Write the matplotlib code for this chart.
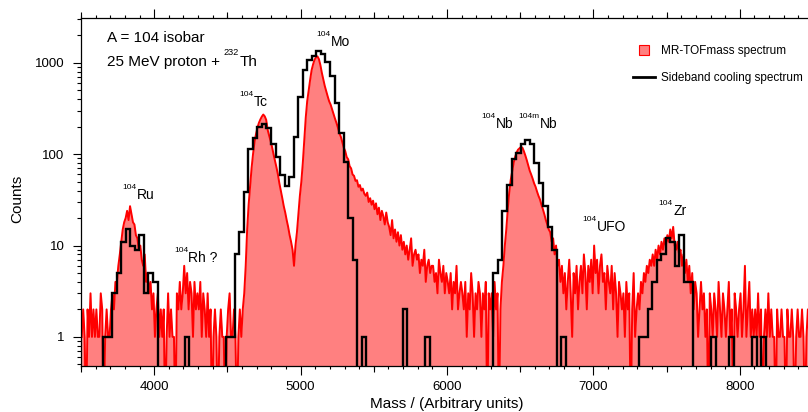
import numpy as np
import matplotlib.pyplot as plt
from matplotlib.lines import Line2D
from matplotlib.ticker import MultipleLocator, LogLocator, NullFormatter, FuncFormatter

plt.rcParams['font.family'] = ['Liberation Sans', 'DejaVu Sans']

# MR-TOF mass spectrum, 10-unit bins starting at 3500 (one row = 100 units)
tof_start = 3500
tof_width = 10
tof_counts = [
    1, 2, 1, 0, 2, 1, 3, 1, 2, 1,              # 3500
    2, 1, 1, 3, 2, 0, 1, 2, 1, 1,              # 3600
    2, 3, 2, 4, 4, 6, 8, 11, 15, 18,           # 3700
    20, 24, 19, 27, 22, 18, 17, 13, 12, 9,     # 3800
    10, 7, 6, 8, 4, 5, 3, 4, 2, 3,             # 3900
    1, 2, 3, 1, 2, 1, 2, 0, 1, 3,              # 4000
    1, 2, 1, 1, 0, 3, 2, 4, 2, 3,              # 4100
    6, 3, 5, 2, 4, 3, 1, 4, 2, 3,              # 4200
    2, 4, 1, 3, 2, 1, 3, 1, 2, 0,              # 4300
    1, 2, 1, 0, 1, 2, 1, 1, 0, 1,              # 4400
    2, 3, 1, 1, 2, 1, 0, 1, 2, 1,              # 4500
    2, 3, 6, 15, 28, 45, 70, 100, 135, 165,    # 4600
    195, 220, 240, 258, 272, 260, 238, 185, 160, 140,  # 4700
    120, 100, 85, 72, 60, 48, 40, 33, 27, 23,  # 4800
    19, 16, 13, 11, 9, 6, 10, 14, 22, 35,      # 4900
    50, 80, 140, 250, 380, 500, 650, 830, 960, 1080,   # 5000
    1150, 1180, 1100, 950, 780, 660, 560, 490, 430, 380,  # 5100
    350, 310, 275, 245, 220, 195, 170, 155, 135, 118,  # 5200
    108, 93, 88, 74, 70, 60, 58, 51, 52, 44,   # 5300
    46, 40, 42, 37, 35, 38, 30, 33, 28, 31,    # 5400
    25, 29, 22, 26, 19, 24, 21, 17, 23, 18,    # 5500
    16, 13, 19, 12, 15, 11, 14, 10, 13, 9,     # 5600
    11, 8, 10, 7, 9, 12, 6, 8, 9, 7,           # 5700
    8, 5, 7, 6, 9, 4, 6, 7, 5, 6,              # 5800
    6, 4, 5, 3, 7, 5, 4, 6, 3, 5,              # 5900
    4, 3, 5, 2, 4, 3, 6, 2, 3, 4,              # 6000
    3, 2, 4, 1, 3, 2, 5, 3, 1, 3,              # 6100
    2, 4, 3, 1, 3, 2, 4, 0, 3, 2,              # 6200
    3, 1, 4, 2, 3, 0, 2, 4, 6, 10,             # 6300
    15, 25, 38, 52, 65, 80, 93, 104, 112, 116, # 6400
    120, 118, 108, 97, 86, 75, 66, 60, 54, 48, # 6500
    44, 39, 35, 32, 28, 25, 22, 19, 17, 15,    # 6600
    14, 11, 12, 8, 10, 6, 7, 4, 6, 3,          # 6700
    5, 2, 4, 7, 3, 1, 5, 3, 6, 2,              # 6800
    4, 6, 3, 8, 5, 2, 6, 4, 7, 3,              # 6900
    10, 5, 7, 3, 6, 8, 4, 5, 2, 6,             # 7000
    4, 3, 6, 2, 5, 3, 1, 4, 3, 2,              # 7100
    3, 1, 4, 2, 3, 0, 2, 5, 1, 2,              # 7200
    3, 2, 4, 3, 5, 4, 6, 5, 7, 6,              # 7300
    8, 6, 9, 7, 10, 8, 11, 9, 12, 10,          # 7400
    13, 11, 15, 12, 16, 10, 9, 11, 8, 9,       # 7500
    6, 8, 5, 7, 4, 6, 3, 5, 2, 4,              # 7600
    3, 1, 2, 4, 2, 3, 1, 2, 0, 3,              # 7700
    2, 1, 3, 2, 1, 4, 2, 1, 3, 2,              # 7800
    1, 2, 4, 1, 2, 0, 3, 2, 1, 2,              # 7900
    3, 1, 2, 6, 1, 2, 4, 1, 2, 1,              # 8000
    2, 1, 3, 1, 2, 0, 1, 2, 1, 3,              # 8100
    1, 2, 1, 1, 0, 2, 1, 1, 2, 1,              # 8200
    1, 0, 2, 1, 1, 2, 1, 0, 1, 2,              # 8300
    1, 1, 2, 1, 0, 1, 2, 1, 1, 1,              # 8400
]

# sideband cooling spectrum, 31-unit bins starting at 3651
sb_start = 3651
sb_width = 31
sb_counts = (
    [1, 1, 3, 5, 11, 15, 10, 9, 13, 3, 5, 4]          # 104Ru
    + [0] * 6 + [1] + [0] * 8
    + [1, 1, 8, 14]
    + [39, 115, 150, 200, 215, 195, 130, 93, 59, 45, 57, 154, 428]   # 104Tc
    + [826, 1076, 1175, 1333, 1250, 1030, 720, 363, 170, 82, 20, 7]  # 104Mo
    + [0, 1] + [0] * 8 + [2] + [0] * 4 + [1] + [0] * 14
    + [5, 7, 24, 46, 88, 104, 130, 144, 130, 80, 48, 27, 16, 9]      # 104Nb
    + [0, 1] + [0] * 16
    + [1, 1, 2, 4, 7, 8, 12, 11, 6, 13, 4, 4]         # 104Zr
    + [0] * 4 + [1] + [0] * 3 + [1] + [0] * 4 + [1, 0, 1, 0]
)

x_ticks = [4000, 5000, 6000, 7000, 8000]
mid_ticks = [3500, 4500, 5500, 6500, 7500, 8500]

# ---------------------------------------------------------------
floor = 0.1  # zero counts drawn below the axis
tof = np.array(tof_counts, dtype=float)
tof_x = tof_start + tof_width * (np.arange(len(tof)) + 0.5)
tof_y = np.where(tof > 0, tof, floor)

sb = np.array(sb_counts, dtype=float)
sb_edges = sb_start + sb_width * np.arange(len(sb) + 1)
sb_y = np.where(sb > 0, sb, floor)

fig = plt.figure(figsize=(8.08, 4.12), dpi=100)
ax = fig.add_axes([81 / 808, 46 / 412, 732 / 808, 348 / 412])

ax.fill_between(tof_x, tof_y, floor, color='#ff8080', lw=0, zorder=1)
ax.plot(tof_x, tof_y, color='red', lw=1.4, zorder=2)
ax.stairs(sb_y, sb_edges, baseline=floor, color='black', lw=1.7, zorder=3)

ax.set_yscale('log')
ax.set_xlim(3500, 8500)
ax.set_ylim(0.48, 3100)

# axes / ticks
for s in ('left', 'bottom', 'top'):
    ax.spines[s].set_linewidth(0.9)
ax.spines['right'].set_visible(False)

ax.xaxis.set_major_locator(plt.FixedLocator(x_ticks))
ax.xaxis.set_minor_locator(MultipleLocator(100))
ax.tick_params(axis='x', which='major', direction='out', length=6.5, width=0.8,
               top=True, bottom=True, labelsize=9.5, pad=4.5)
ax.tick_params(axis='x', which='minor', direction='out', length=2.4, width=0.8,
               top=True, bottom=True)
for loc in ('bottom', 'top'):
    sec = ax.secondary_xaxis(loc)
    sec.set_xticks(mid_ticks)
    sec.tick_params(direction='out', length=4.3, width=0.8,
                    labelbottom=False, labeltop=False)
    sec.spines[loc].set_visible(False)

ax.yaxis.set_major_locator(LogLocator(base=10))
ax.yaxis.set_minor_locator(LogLocator(base=10, subs=range(2, 10)))
ax.yaxis.set_minor_formatter(NullFormatter())
ax.yaxis.set_major_formatter(FuncFormatter(lambda v, _: f'{v:g}'))
ax.tick_params(axis='y', which='major', direction='out', length=6, width=0.8,
               right=False, labelsize=9.5, pad=6)
ax.tick_params(axis='y', which='minor', direction='out', length=3, width=0.8,
               right=False)

ax.set_xlabel('Mass / (Arbitrary units)', fontsize=11)
ax.xaxis.set_label_coords(0.5, -0.088)
ax.set_ylabel('Counts', fontsize=11)
ax.yaxis.set_label_coords(-0.078, 0.48)


def iso(x, y, sup, main, size=10):
    ax.text(x, y, main, ha='left', va='baseline', fontsize=size)
    ax.annotate(sup, (x, y), xytext=(-0.3, 0.7 * size), textcoords='offset points',
                ha='right', va='baseline', fontsize=0.6 * size)


iso(3882, 32.5, '104', 'Ru')
iso(4234, 6.68, '104', 'Rh ?')
iso(4683, 339, '104', 'Tc')
iso(5206, 1539, '104', 'Mo')
iso(6334, 193, '104', 'Nb')
iso(6635, 193, '104m', 'Nb')
iso(7022, 14.5, '104', 'UFO')
iso(7545, 21.7, '104', 'Zr')

ax.text(3681, 1673, 'A = 104 isobar', ha='left', va='baseline', fontsize=11)
ax.text(3681, 929, '25 MeV proton +', ha='left', va='baseline', fontsize=11)
iso(4582, 929, '232', 'Th', size=11)

handles = [
    Line2D([], [], ls='none', marker='s', markersize=7, mfc='#ff8080', mec='red', mew=0.8),
    Line2D([], [], color='black', lw=2),
]
ax.legend(handles, ['MR-TOFmass spectrum', 'Sideband cooling spectrum'],
          loc='upper left', bbox_to_anchor=(633 / 808, 1 - 45 / 412),
          bbox_transform=fig.transFigure, frameon=False, fontsize=8.5,
          handlelength=1.9, handletextpad=0.5, labelspacing=1.25,
          borderaxespad=0, borderpad=0)

fig.savefig('out.png', dpi=100)
